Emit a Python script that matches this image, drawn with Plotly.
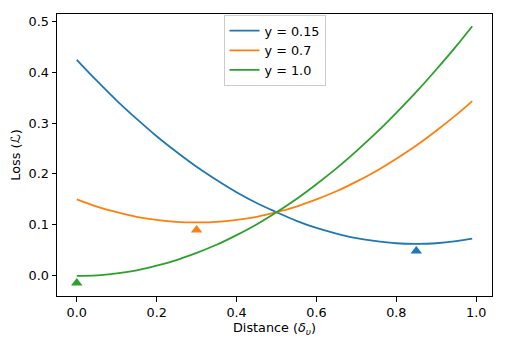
import plotly.graph_objects as go

x_vals = [0.0, 0.05, 0.1, 0.15, 0.2, 0.25, 0.3, 0.35, 0.4, 0.45, 0.5,
          0.55, 0.6, 0.65, 0.7, 0.75, 0.8, 0.85, 0.9, 0.95, 0.99]
loss_y015 = [0.424, 0.383, 0.344, 0.308, 0.274, 0.243, 0.214, 0.188, 0.164, 0.143, 0.125,
             0.108, 0.094, 0.083, 0.074, 0.068, 0.064, 0.063, 0.064, 0.068, 0.073]
loss_y07 = [0.150, 0.136, 0.125, 0.116, 0.110, 0.106, 0.105, 0.106, 0.110, 0.116, 0.125,
            0.136, 0.150, 0.166, 0.185, 0.206, 0.230, 0.256, 0.285, 0.316, 0.343]
loss_y10 = [0.000, 0.001, 0.005, 0.011, 0.020, 0.031, 0.045, 0.061, 0.080, 0.101, 0.125,
            0.151, 0.180, 0.211, 0.245, 0.281, 0.320, 0.361, 0.405, 0.451, 0.490]

series_names = ["y = 0.15", "y = 0.7", "y = 1.0"]
series_vals = [loss_y015, loss_y07, loss_y10]
colors = ["#1f77b4", "#ff7f0e", "#2ca02c"]

marker_x = [0.85, 0.30, 0.0]
marker_y = [0.049, 0.090, -0.014]

x_ticks = [0.0, 0.2, 0.4, 0.6, 0.8, 1.0]
y_ticks = [0.0, 0.1, 0.2, 0.3, 0.4, 0.5]

fig = go.Figure()
for name, vals, c in zip(series_names, series_vals, colors):
    fig.add_trace(go.Scatter(x=x_vals, y=vals, mode="lines", name=name,
                             line=dict(color=c, width=1.8, shape="spline")))
for mx, my, c in zip(marker_x, marker_y, colors):
    fig.add_trace(go.Scatter(x=[mx], y=[my], mode="markers", showlegend=False,
                             marker=dict(symbol="triangle-up", size=10, color=c,
                                         line=dict(width=0))))

font = dict(family="DejaVu Sans", size=12.8, color="black")
axis_common = dict(showline=True, linecolor="black", linewidth=1, mirror=True,
                   ticks="outside", ticklen=4.5, tickwidth=1, tickcolor="black",
                   showgrid=False, zeroline=False, tickfont=font, automargin=False)
fig.update_layout(
    width=506, height=346,
    margin=dict(l=49, r=22, t=6, b=58),
    paper_bgcolor="white", plot_bgcolor="white",
    font=font,
    xaxis=dict(range=[-0.0495, 1.0395], tickvals=x_ticks,
               ticktext=[f"{v:.1f}" for v in x_ticks],
               title=dict(text="Distance (<i>δ</i><sub><i>υ</i></sub>)", font=font, standoff=4),
               **axis_common),
    yaxis=dict(range=[-0.0395, 0.514], tickvals=y_ticks,
               ticktext=[f"{v:.1f}" for v in y_ticks],
               title=dict(text="Loss (<i>ℒ</i>)", font=font, standoff=6),
               **axis_common),
    legend=dict(x=0.5, y=0.997, xanchor="center", yanchor="top",
                bgcolor="rgba(255,255,255,0.8)", bordercolor="#cccccc", borderwidth=1,
                font=font, tracegroupgap=0, itemwidth=30),
    showlegend=True,
)
fig.write_html("out.html")
